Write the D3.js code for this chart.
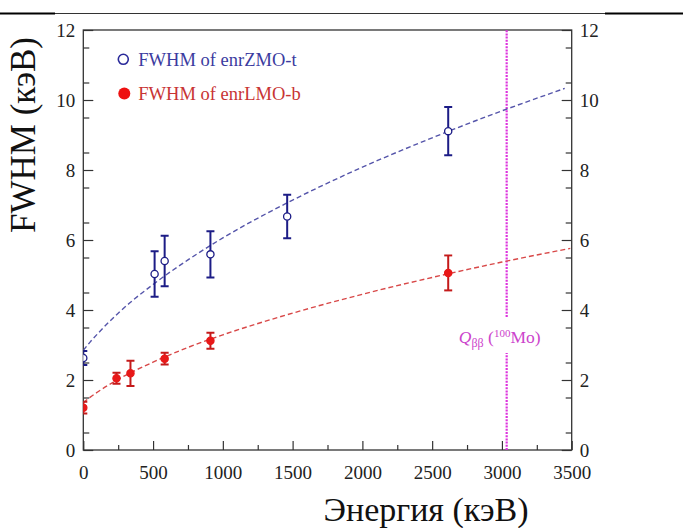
<!DOCTYPE html>
<html>
<head>
<meta charset="utf-8">
<script src="https://cdn.jsdelivr.net/npm/d3@7"></script>
<style>
  body { margin: 0; background: #fff; }
  svg text { font-family: "Liberation Serif", "Times New Roman", serif; }
</style>
</head>
<body>
<div class="canvas"></div>
<script>
// data
const energyZMO = [0, 511, 583, 911, 1461, 2615];
const fwhmZMO = [2.63, 5.03, 5.4, 5.59, 6.67, 9.11];
const errZMO = [0.2, 0.65, 0.72, 0.66, 0.62, 0.69];

const energyLMO = [0, 238, 338, 583, 911, 2615];
const fwhmLMO = [1.21, 2.05, 2.19, 2.61, 3.12, 5.06];
const errLMO = [0.17, 0.16, 0.36, 0.17, 0.23, 0.5];

// dashed fit curves (read at a few energies)
const fitEnergyZMO = [0, 25, 50, 100, 250, 500, 750, 1000, 1500, 2000, 2500, 3000, 3450];
const fitZMO = [2.85, 2.97, 3.09, 3.31, 3.91, 4.73, 5.43, 6.06, 7.14, 8.08, 8.92, 9.69, 10.33];
const fitEnergyLMO = [0, 50, 100, 250, 500, 750, 1000, 1500, 2000, 2500, 3000, 3490];
const fitLMO = [1.35, 1.51, 1.65, 2.02, 2.51, 2.93, 3.29, 3.91, 4.45, 4.93, 5.37, 5.76];

const qbbEnergy = 3034;
const xTicks = [0, 500, 1000, 1500, 2000, 2500, 3000, 3500];
const yTicks = [0, 2, 4, 6, 8, 10, 12];

const width = 683;
const height = 528;
const margin = { top: 30, left: 83.3, right: 111.3, bottom: 78 };
const graphWidth = width - margin.left - margin.right;
const graphHeight = height - margin.top - margin.bottom;

const svg = d3
  .select(".canvas")
  .append("svg")
  .attr("width", width)
  .attr("height", height);

// top rule of the page
svg.append("line")
  .attr("x1", 55).attr("x2", 605).attr("y1", 13.5).attr("y2", 13.5)
  .attr("stroke", "#333").attr("stroke-width", 1.2);
[[0, 55], [605, 683]].forEach(([a, b]) => {
  svg.append("line")
    .attr("x1", a).attr("x2", b).attr("y1", 13.5).attr("y2", 13.5)
    .attr("stroke", "#000").attr("stroke-width", 2.2);
});

const graph = svg
  .append("g")
  .attr("transform", `translate(${margin.left},${margin.top})`);

// scales
const x = d3.scaleLinear().domain([0, 3500]).range([0, graphWidth]);
const y = d3.scaleLinear().domain([0, 12]).range([graphHeight, 0]);

graph.append("clipPath").attr("id", "plot-clip")
  .append("rect").attr("width", graphWidth).attr("height", graphHeight);

// axes: major + minor ticks, pointing inward
const minorX = d3.range(250, 3500, 500);
const minorY = d3.range(0.5, 12, 1);

const styleAxis = (g) => {
  g.select(".domain").remove();
  g.selectAll("line").attr("stroke", "#333").attr("stroke-width", 1.2);
  g.selectAll("text").attr("fill", "#222").style("font-size", "19px");
};

graph.append("g")
  .attr("transform", `translate(0,${graphHeight})`)
  .call(d3.axisBottom(x).tickValues(xTicks).tickSize(-9).tickPadding(16).tickFormat(d3.format("d")))
  .call(styleAxis);
graph.append("g")
  .attr("transform", `translate(0,${graphHeight})`)
  .call(d3.axisBottom(x).tickValues(minorX).tickSize(-5).tickFormat(""))
  .call(styleAxis);

graph.append("g")
  .call(d3.axisLeft(y).tickValues(yTicks).tickSize(-10).tickPadding(8))
  .call(styleAxis);
graph.append("g")
  .call(d3.axisLeft(y).tickValues(minorY).tickSize(-6).tickFormat(""))
  .call(styleAxis);

graph.append("g")
  .attr("transform", `translate(${graphWidth},0)`)
  .call(d3.axisRight(y).tickValues(yTicks).tickSize(-10).tickPadding(8))
  .call(styleAxis);
graph.append("g")
  .attr("transform", `translate(${graphWidth},0)`)
  .call(d3.axisRight(y).tickValues(minorY).tickSize(-6).tickFormat(""))
  .call(styleAxis);

// frame
graph.append("rect")
  .attr("width", graphWidth).attr("height", graphHeight)
  .attr("fill", "none").attr("stroke", "#333").attr("stroke-width", 1.3);

// Q-value line with a gap for its label
const qGap = [2.77, 3.8];
[[0, qGap[0]], [qGap[1], 12]].forEach(([a, b]) => {
  graph.append("line")
    .attr("x1", x(qbbEnergy)).attr("x2", x(qbbEnergy))
    .attr("y1", y(a)).attr("y2", y(b))
    .attr("stroke", "#dd33dd").attr("stroke-width", 2.2)
    .attr("stroke-dasharray", "2,1.2");
});

const qLabel = graph.append("text")
  .attr("x", x(qbbEnergy) - 7).attr("y", y(3.05))
  .attr("text-anchor", "middle")
  .attr("fill", "#cc44cc")
  .style("font-size", "17.5px");
qLabel.append("tspan").attr("font-style", "italic").text("Q");
qLabel.append("tspan").attr("dy", 4).style("font-size", "12px").text("ββ");
qLabel.append("tspan").attr("dy", -4).text(" (");
qLabel.append("tspan").attr("dy", -6).style("font-size", "11px").text("100");
qLabel.append("tspan").attr("dy", 6).text("Mo)");

// fit curves
const line = d3.line()
  .x((d) => x(d[0]))
  .y((d) => y(d[1]))
  .curve(d3.curveMonotoneX);

const plot = graph.append("g").attr("clip-path", "url(#plot-clip)");

plot.append("path")
  .datum(d3.zip(fitEnergyZMO, fitZMO))
  .attr("fill", "none").attr("stroke", "#5555aa").attr("stroke-width", 1.4)
  .attr("stroke-dasharray", "5,3").attr("d", line);

plot.append("path")
  .datum(d3.zip(fitEnergyLMO, fitLMO))
  .attr("fill", "none").attr("stroke", "#d84848").attr("stroke-width", 1.4)
  .attr("stroke-dasharray", "5,3").attr("d", line);

// points with error bars
const drawSeries = (energies, values, errs, color, filled) => {
  const pts = d3.zip(energies, values, errs);
  const g = plot.append("g");
  const bars = g.selectAll("g.err").data(pts).enter().append("g");
  bars.append("line")
    .attr("x1", (d) => x(d[0])).attr("x2", (d) => x(d[0]))
    .attr("y1", (d) => y(d[1] - d[2])).attr("y2", (d) => y(d[1] + d[2]))
    .attr("stroke", color).attr("stroke-width", 2);
  [-1, 1].forEach((s) => {
    bars.append("line")
      .attr("x1", (d) => x(d[0]) - 4).attr("x2", (d) => x(d[0]) + 4)
      .attr("y1", (d) => y(d[1] + s * d[2])).attr("y2", (d) => y(d[1] + s * d[2]))
      .attr("stroke", color).attr("stroke-width", 2);
  });
  g.selectAll("circle").data(pts).enter().append("circle")
    .attr("cx", (d) => x(d[0])).attr("cy", (d) => y(d[1]))
    .attr("r", 3.6)
    .attr("fill", filled ? "#e81818" : "#fff")
    .attr("stroke", filled ? "#e81818" : color)
    .attr("stroke-width", 1.3);
};

drawSeries(energyZMO, fwhmZMO, errZMO, "#1c1c86", false);
drawSeries(energyLMO, fwhmLMO, errLMO, "#c41a1a", true);

// legend
const legend = graph.append("g");
legend.append("circle")
  .attr("cx", 40).attr("cy", 29.3).attr("r", 5)
  .attr("fill", "#fff").attr("stroke", "#2a2a9a").attr("stroke-width", 1.6);
legend.append("text")
  .attr("x", 55).attr("y", 35.5)
  .attr("fill", "#3b3ba0").style("font-size", "18.5px")
  .text("FWHM of enrZMO-t");
legend.append("circle")
  .attr("cx", 41).attr("cy", 63.5).attr("r", 6)
  .attr("fill", "#ee1111");
legend.append("text")
  .attr("x", 55).attr("y", 70)
  .attr("fill", "#c83434").style("font-size", "18.5px")
  .text("FWHM of enrLMO-b");

// axis titles
svg.append("text")
  .attr("x", 426).attr("y", 521)
  .attr("text-anchor", "middle")
  .attr("fill", "#111")
  .style("font-size", "34px")
  .text("Энергия (кэВ)");

svg.append("text")
  .attr("transform", "translate(35,135) rotate(-90)")
  .attr("text-anchor", "middle")
  .attr("fill", "#111")
  .style("font-size", "35px")
  .text("FWHM (кэВ)");
</script>
</body>
</html>
